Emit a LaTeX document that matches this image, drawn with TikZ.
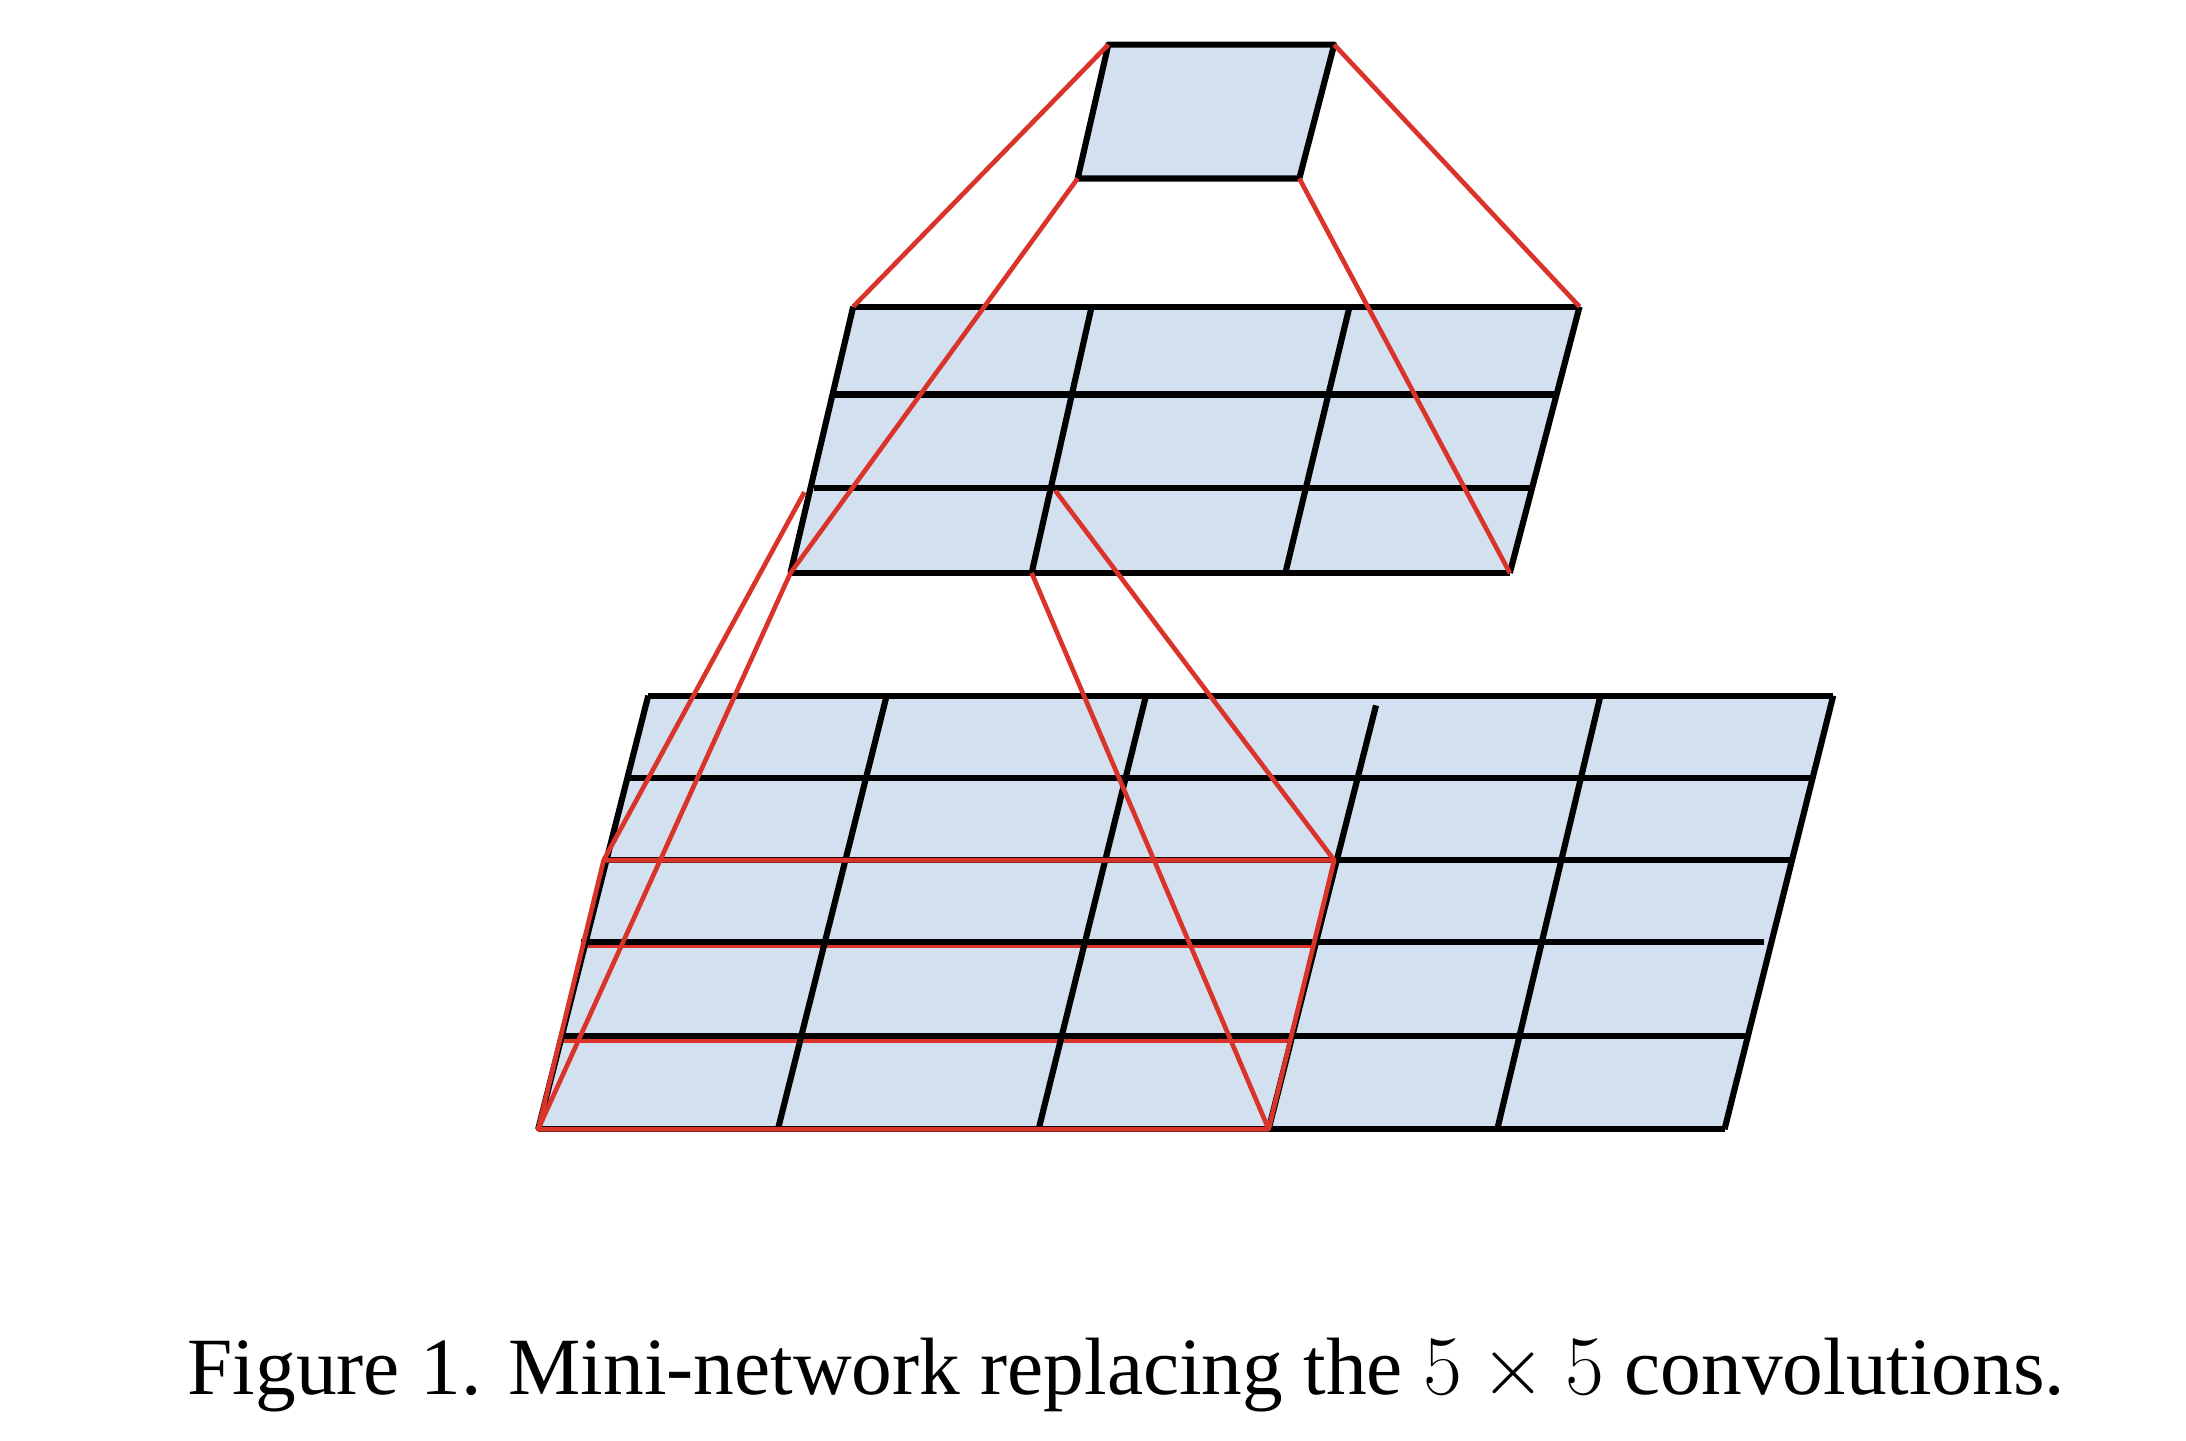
\documentclass[tikz,border=0pt]{standalone}
\usepackage{fontspec}
\setmainfont{Liberation Serif}
\definecolor{cellblue}{RGB}{210,224,240}
\definecolor{linkred}{RGB}{218,52,42}

\begin{document}
\begin{tikzpicture}[x=0.1mm,y=-0.1mm,line join=round,
  grid/.style={draw=black,line width=1.25pt},
  link/.style={draw=linkred,line width=0.95pt}]
\useasboundingbox (0,0) rectangle (1568,1033);
% top unit
\coordinate (t-nw) at (795,32);
\coordinate (t-ne) at (957,32);
\coordinate (t-se) at (932,128);
\coordinate (t-sw) at (773,128);
\filldraw[grid,fill=cellblue] (t-nw) -- (t-ne) -- (t-se) -- (t-sw) -- cycle;
% middle layer
\coordinate (m-nw) at (612,220);
\coordinate (m-ne) at (1133,220);
\coordinate (m-se) at (1083,411);
\coordinate (m-sw) at (567,411);
\fill[cellblue] (m-nw) -- (m-ne) -- (m-se) -- (m-sw) -- cycle;
\foreach \y/\a/\b in {220/612/1133,283/599/1118,350/584/1100,411/567/1083} {
\draw[grid] (\a,\y) -- (\b,\y);
}
\foreach \a/\b in {612/567,783/740,968/922,1133/1083} {
\draw[grid] (\a,220) -- (\b,411);
}
% bottom layer
\coordinate (b-nw) at (465,499);
\coordinate (b-ne) at (1315,499);
\coordinate (b-se) at (1237,810);
\coordinate (b-sw) at (386,810);
\fill[cellblue] (b-nw) -- (b-ne) -- (b-se) -- (b-sw) -- cycle;
\foreach \y/\a/\b in {678.5/419/941,746.5/402/925} {
\draw[link] (\a,\y) -- (\b,\y);
}
\foreach \y/\a/\b in {499/465/1315,558/451/1300,617/435/1285,676/417/1265,743/403/1253,810/386/1237} {
\draw[grid] (\a,\y) -- (\b,\y);
}
\foreach \a/\b/\c in {465/386/499,636/558/499,822/745/499,987/910/506,1148/1074/499,1315/1237/499} {
\draw[grid] (\a,\c) -- (\b,810);
}
% receptive field
\coordinate (c-nw) at (577,353);
\coordinate (c-ne) at (757,352);
\coordinate (c-se) at (740,411);
\coordinate (r-nw) at (433,617);
\coordinate (r-ne) at (957,617);
\coordinate (r-se) at (910,810);
\coordinate (r-sw) at (386,810);
\draw[link] (r-nw) -- (r-ne) -- (r-se) -- (r-sw) -- cycle;
\draw[link] (t-nw) -- (m-nw);
\draw[link] (t-ne) -- (m-ne);
\draw[link] (t-sw) -- (m-sw);
\draw[link] (t-se) -- (m-se);
\draw[link] (c-nw) -- (r-nw);
\draw[link] (m-sw) -- (r-sw);
\draw[link] (c-ne) -- (r-ne);
\draw[link] (c-se) -- (r-se);
\node[anchor=base] (caption) at (808,1000) {\fontsize{16.6}{20}\selectfont Figure 1. Mini-network replacing the $5\times5$ convolutions.};
\end{tikzpicture}
\end{document}
